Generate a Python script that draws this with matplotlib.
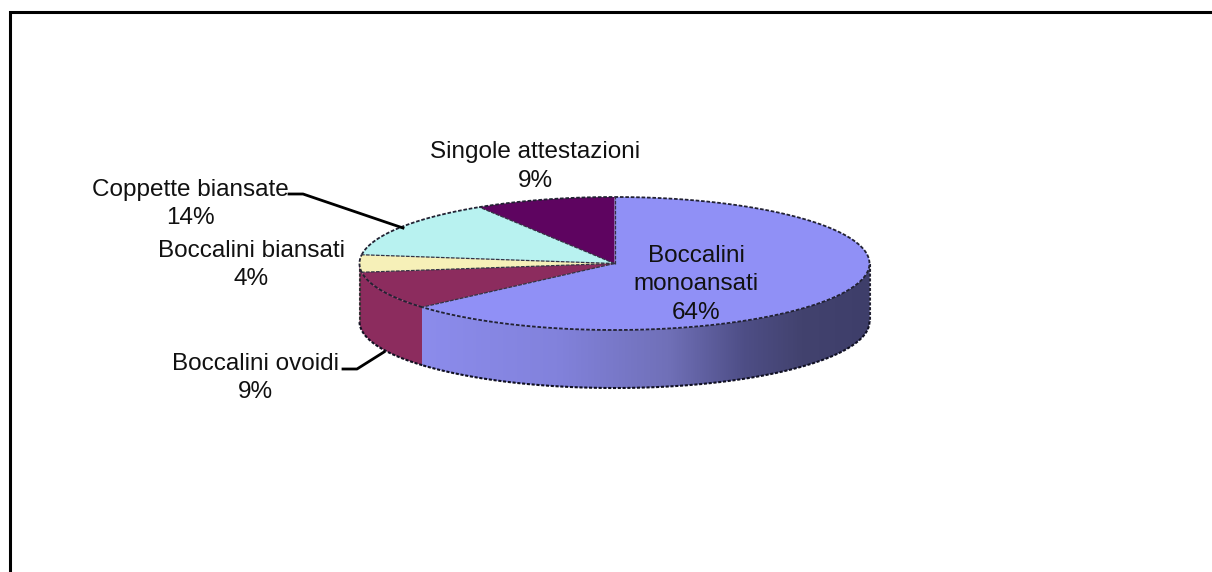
import numpy as np
import matplotlib
matplotlib.use("Agg")
import matplotlib.pyplot as plt
from matplotlib.patches import Polygon
from matplotlib.colors import LinearSegmentedColormap

labels = ["Boccalini\nmonoansati\n64%", "Boccalini ovoidi\n9%", "Boccalini biansati\n4%",
          "Coppette biansate\n14%", "Singole attestazioni\n9%"]
# shares, the labels round them
values = [63.6, 9.3, 4.2, 14.0, 8.9]
colors = ["#9090F6", "#8C2C5E", "#F6F0B8", "#B8F2F0", "#5E0460"]

# pie ellipse in pixels
cx, cy = 614.5, 263.5
a, b = 255, 66.5
depth = 58

plt.rcParams['font.family'] = ['Liberation Sans', 'DejaVu Sans']
fig = plt.figure(figsize=(12.12, 5.72), dpi=100)
ax = fig.add_axes([0, 0, 1, 1])

def rim(t0, t1, n=120):
    t = np.radians(np.linspace(t0, t1, n))
    return cx + a*np.sin(t), cy - b*np.cos(t)

edges = np.cumsum([0] + values) / sum(values) * 360
dots = (0, (1.5, 0.8))

# side wall, the second slice also covers the little bit up to the left end
for i in range(2):
    t0 = max(edges[i], 90)
    t1 = 270 if i == 1 else edges[i+1]
    x, y = rim(t0, t1)
    pts = np.r_[np.c_[x, y], np.c_[x[::-1], y[::-1] + depth]]
    poly = Polygon(pts, closed=True, fc=colors[i], ec="none", zorder=2)
    ax.add_patch(poly)
    if i == 0:
        cmap = LinearSegmentedColormap.from_list("side", [
            (0.0, "#8C8CEC"), (0.3, "#8282DC"), (0.55, "#7070B8"),
            (0.72, "#4E4E86"), (0.85, "#42426E"), (1.0, "#3E3E6A")])
        grad = np.linspace(0, 1, 256).reshape(1, -1)
        im = ax.imshow(grad, cmap=cmap, extent=[x.min(), x.max(), 572, 0],
                       aspect="auto", zorder=2.1)
        im.set_clip_path(poly)
    ax.plot(x, y + depth, color="#111122", lw=1.5, ls=dots, zorder=3)

# wall edges
ax.plot([cx-a, cx-a], [cy, cy+depth], color="#333333", lw=1.5, ls=dots, zorder=3)
ax.plot([cx+a, cx+a], [cy, cy+depth], color="#222233", lw=1.5, ls=dots, zorder=3)

# top face
for i in range(len(values)):
    x, y = rim(edges[i], edges[i+1])
    ax.add_patch(Polygon(np.r_[[[cx, cy]], np.c_[x, y]], closed=True, fc=colors[i], ec="none", zorder=4))
    ax.plot(x, y, color="#222233", lw=1.3, ls=(0, (2, 1)), zorder=5)
    ax.plot([cx, x[0]], [cy, y[0]], color="#333344", lw=0.9, ls=(0, (3, 1)), zorder=5)

# leader lines
ax.plot([289, 303, 403], [194, 194, 228], color="black", lw=2, zorder=6)
ax.plot([343, 357, 384], [369, 369, 352], color="black", lw=2, zorder=6)

# labels
fs = 17.5
ls = 1.36
txt = "#111111"
ax.text(696, 284.5, labels[0], ha="center", va="center", fontsize=fs, linespacing=ls, color=txt, zorder=7)
ax.text(255, 378, labels[1], ha="center", va="center", fontsize=fs, linespacing=ls, color=txt)
ax.text(251, 265, labels[2], ha="center", va="center", fontsize=fs, linespacing=ls, color=txt)
ax.text(190.5, 204, labels[3], ha="center", va="center", fontsize=fs, linespacing=ls, color=txt)
ax.text(535, 166.5, labels[4], ha="center", va="center", fontsize=fs, linespacing=ls, color=txt)

# outer frame, open on the right and at the bottom
ax.plot([9.5, 9.5, 1212], [572, 11.5, 11.5], color="black", lw=2.2, solid_joinstyle="miter", zorder=8)

ax.set_xlim(0, 1212)
ax.set_ylim(572, 0)
ax.axis("off")

fig.savefig("out.png", dpi=100)
